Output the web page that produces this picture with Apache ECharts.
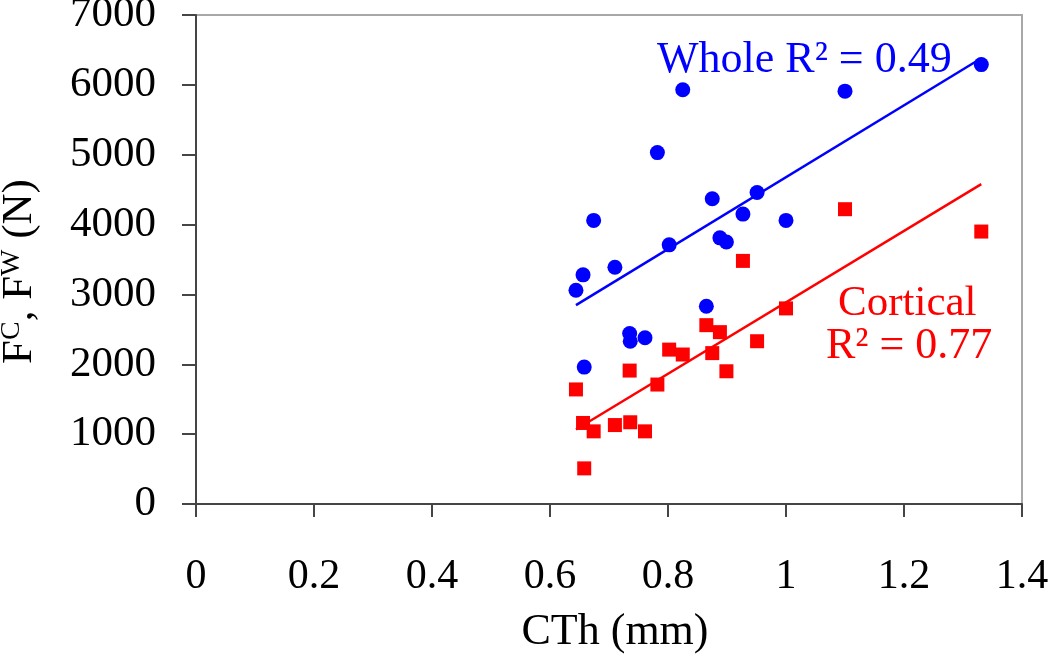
<!DOCTYPE html>
<html>
<head>
<meta charset="utf-8">
<script src="https://cdn.jsdelivr.net/npm/echarts@6/dist/echarts.min.js"></script>
<style>
html,body{margin:0;padding:0;background:#fff;}
#chart{width:1050px;height:659px;}
</style>
</head>
<body>
<div id="chart"></div>
<script>
// Cortical thickness (mm), shared by both series
const cth = [0.644, 0.656, 0.658, 0.674, 0.710, 0.735, 0.736, 0.761, 0.782, 0.802,
             0.825, 0.865, 0.875, 0.888, 0.899, 0.927, 0.951, 1.000, 1.100, 1.331];
// Whole bone force F^W (N)
const whole = [3060, 3280, 1960, 4060, 3390, 2440, 2330, 2380, 5030, 3710,
               5930, 2830, 4370, 3810, 3750, 4150, 4460, 4060, 5910, 6290];
// Cortical force F^C (N)
const cortical = [1640, 1160, 510, 1040, 1130, 1910, 1170, 1040, 1710, 2210,
                  2140, 2560, 2160, 2460, 1900, 3480, 2330, 2800, 4220, 3900];
const xTicks = [0, 0.2, 0.4, 0.6, 0.8, 1, 1.2, 1.4];
const yTicks = [0, 1000, 2000, 3000, 4000, 5000, 6000, 7000];
const wholeLabel = 'Whole R\u00B2 = 0.49';
const corticalLabel = ['Cortical', 'R\u00B2 = 0.77'];

function pairs(xs, ys) { return xs.map((x, i) => [x, ys[i]]); }
function fit(xs, ys) {
  const n = xs.length;
  const mx = xs.reduce((a, b) => a + b, 0) / n;
  const my = ys.reduce((a, b) => a + b, 0) / n;
  let sxy = 0, sxx = 0;
  for (let i = 0; i < n; i++) { sxy += (xs[i] - mx) * (ys[i] - my); sxx += (xs[i] - mx) ** 2; }
  const b = sxy / sxx, a = my - b * mx;
  const x0 = Math.min(...xs), x1 = Math.max(...xs);
  return [[x0, a + b * x0], [x1, a + b * x1]];
}

const FONT = '"Liberation Serif", "DejaVu Serif", serif';
const axisColor = '#454545';
const chart = echarts.init(document.getElementById('chart'), null, {renderer: 'canvas'});
chart.setOption({
  animation: false,
  backgroundColor: '#fff',
  grid: {left: 196, right: 28, top: 15, bottom: 155, show: true, borderColor: '#a8a8a8', borderWidth: 2,
         containLabel: false, outerBoundsMode: 'none'},
  xAxis: {
    type: 'value', min: xTicks[0], max: xTicks[xTicks.length - 1], interval: 0.2,
    name: 'CTh (mm)', nameLocation: 'middle', nameGap: 106,
    nameTextStyle: {fontFamily: FONT, fontSize: 44, color: '#000', padding: [0, 0, 0, 12]},
    axisLine: {show: true, onZero: false, lineStyle: {color: axisColor, width: 2}},
    axisTick: {show: true, inside: false, length: 13, lineStyle: {color: axisColor, width: 2}},
    axisLabel: {fontFamily: FONT, fontSize: 42, color: '#000', margin: 52,
                formatter: v => String(+v.toFixed(1))},
    splitLine: {show: false}
  },
  yAxis: {
    type: 'value', min: yTicks[0], max: yTicks[yTicks.length - 1], interval: 1000,
    name: 'F{sup|C}, F{sup|W} (N)', nameLocation: 'middle', nameGap: 155, nameRotate: 90,
    nameTextStyle: {fontFamily: FONT, fontSize: 43, color: '#000', padding: [0, 24, 0, 0],
      rich: {sup: {fontFamily: FONT, fontSize: 28, color: '#000', verticalAlign: 'top', padding: [0, 0, 14, 0]}}},
    axisLine: {show: true, onZero: false, lineStyle: {color: axisColor, width: 2}},
    axisTick: {show: true, inside: false, length: 14, lineStyle: {color: axisColor, width: 2}},
    axisLabel: {fontFamily: FONT, fontSize: 43, color: '#000', margin: 40,
                formatter: v => String(v)},
    splitLine: {show: false}
  },
  series: [
    {type: 'line', data: fit(cth, whole), symbol: 'none', lineStyle: {color: '#0000ff', width: 2.5}, z: 3},
    {type: 'line', data: fit(cth, cortical), symbol: 'none', lineStyle: {color: '#ff0000', width: 2.5}, z: 3},
    {type: 'scatter', name: 'Whole', data: pairs(cth, whole), symbol: 'circle', symbolSize: 15,
     itemStyle: {color: '#0000ff', opacity: 1}, z: 2},
    {type: 'scatter', name: 'Cortical', data: pairs(cth, cortical), symbol: 'rect', symbolSize: 14,
     itemStyle: {color: '#ff0000', opacity: 1}, z: 2}
  ],
  graphic: [
    {type: 'text', left: 657, top: 38, z: 10,
     style: {text: wholeLabel, fontFamily: FONT, fontSize: 44, fill: '#0000ff'}},
    {type: 'text', left: 838, top: 282, z: 10,
     style: {text: corticalLabel[0], fontFamily: FONT, fontSize: 43, fill: '#ff0000'}},
    {type: 'text', left: 826, top: 324, z: 10,
     style: {text: corticalLabel[1], fontFamily: FONT, fontSize: 44, fill: '#ff0000'}}
  ]
});
</script>
</body>
</html>
